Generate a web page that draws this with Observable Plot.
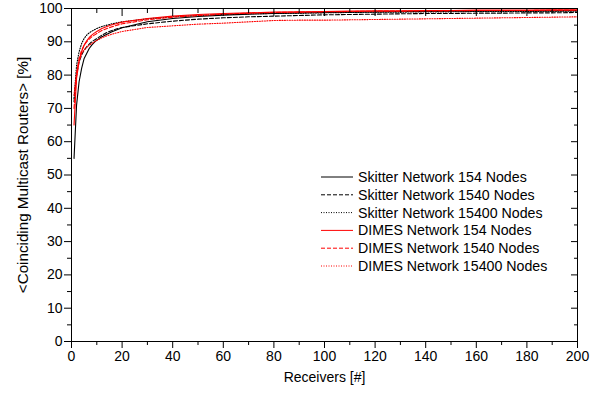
<!DOCTYPE html>
<html>
<head>
<meta charset="utf-8">
<script src="https://cdn.jsdelivr.net/npm/d3@7"></script>
<script src="https://cdn.jsdelivr.net/npm/@observablehq/plot@0.6"></script>
<style>
  html, body { margin: 0; padding: 0; background: #fff; }
  #chart { width: 600px; height: 396px; }
</style>
</head>
<body>
<div id="chart"></div>
<script>
const receivers = [1,2,3,4,5,6,7,8,9,10,12,14,16,18,20,30,40,50,60,70,80,90,100,110,120,130,140,150,160,170,180,190,200];

const skitter154   = [55,71,78,82,85,86.5,88,89,89.8,90.5,91.5,92.3,93,93.6,94.2,96,97,97.6,98,98.3,98.5,98.7,98.8,98.9,99,99.1,99.1,99.2,99.2,99.3,99.3,99.3,99.4];
const skitter1540  = [72,80,84,86,87.5,88.5,89.3,90,90.5,91,92,92.8,93.4,93.9,94.3,95.4,96.2,96.8,97.2,97.5,97.7,97.9,98.1,98.2,98.3,98.4,98.5,98.5,98.6,98.6,98.7,98.7,98.8];
const skitter15400 = [73,83,87,89.5,91,92,92.7,93.2,93.6,94,94.6,95,95.4,95.7,96,96.9,97.5,97.9,98.2,98.4,98.5,98.6,98.7,98.8,98.9,98.9,99,99,99.1,99.1,99.1,99.2,99.2];
const dimes154     = [65,79,84,87,89,90.3,91.3,92,92.6,93.1,94,94.6,95.1,95.5,95.9,97,97.7,98.2,98.5,98.7,98.9,99,99.1,99.2,99.3,99.3,99.4,99.4,99.5,99.5,99.5,99.6,99.6];
const dimes1540    = [70,80,85,87.5,89,90,90.8,91.5,92,92.5,93.4,94,94.5,95,95.4,96.6,97.4,97.9,98.3,98.6,98.8,98.9,99,99.1,99.2,99.2,99.3,99.3,99.4,99.4,99.4,99.5,99.5];
const dimes15400   = [74,81,84.5,86.5,87.5,88.3,89,89.5,90,90.4,91.2,91.8,92.3,92.7,93.1,94.3,94.8,95.3,95.6,96,96.4,96.5,96.5,96.6,96.7,96.8,96.9,97,97.1,97.2,97.3,97.4,97.5];

const seriesNames = ["Skitter Network 154 Nodes","Skitter Network 1540 Nodes","Skitter Network 15400 Nodes","DIMES Network 154 Nodes","DIMES Network 1540 Nodes","DIMES Network 15400 Nodes"];
const seriesValues = [skitter154, skitter1540, skitter15400, dimes154, dimes1540, dimes15400];
const seriesColors = ["#000000","#000000","#000000","#ff0000","#ff0000","#ff0000"];
const seriesDash = [null, "4,2", "1,1.5", null, "4,2", "1,1.5"];

const xMajor = d3.range(0, 201, 20);
const xMinor = d3.range(10, 200, 20);
const yMajor = d3.range(0, 101, 10);
const yMinor = d3.range(5, 100, 10);

const lineMarks = seriesValues.map((vals, i) =>
  Plot.line(receivers.map((r, j) => ({x: r, y: vals[j]})), {
    x: "x", y: "y", stroke: seriesColors[i], strokeWidth: 1.1,
    strokeDasharray: seriesDash[i], curve: "linear"
  })
);

const chart = Plot.plot({
  width: 600, height: 396,
  marginLeft: 71, marginRight: 23, marginTop: 8, marginBottom: 55,
  style: {fontFamily: "'Liberation Sans', Arial, sans-serif", fontSize: "14px", color: "#000", background: "#fff"},
  x: {domain: [0, 200]},
  y: {domain: [0, 100]},
  marks: [
    ...lineMarks,
    Plot.frame({stroke: "#000", strokeWidth: 1}),
    Plot.axisX(xMajor, {anchor: "bottom", tickSize: 7, tickPadding: 3, label: "Receivers [#]", labelAnchor: "center", labelArrow: "none", labelOffset: 40}),
    Plot.axisX(xMinor, {anchor: "bottom", tickSize: 4, tickFormat: () => "", label: null}),
    Plot.axisX(xMajor, {anchor: "top", tickSize: -7, tickFormat: () => "", label: null}),
    Plot.axisX(xMinor, {anchor: "top", tickSize: -4, tickFormat: () => "", label: null}),
    Plot.axisY(yMajor, {anchor: "left", tickSize: 7, tickPadding: 2, label: "<Coinciding Multicast Routers> [%]", labelAnchor: "center", labelArrow: "none", labelOffset: 54}),
    Plot.axisY(yMinor, {anchor: "left", tickSize: 4, tickFormat: () => "", label: null}),
    Plot.axisY(yMajor, {anchor: "right", tickSize: -7, tickFormat: () => "", label: null}),
    Plot.axisY(yMinor, {anchor: "right", tickSize: -4, tickFormat: () => "", label: null})
  ]
});

document.getElementById("chart").appendChild(chart);

const svg = d3.select(chart);
// Slightly larger y-axis title, as in the reference
svg.selectAll('g[aria-label="y-axis label"] text').attr("font-size", 15.2);

// Legend inside the plot area
const lg = svg.append("g")
  .attr("font-family", "'Liberation Sans', Arial, sans-serif")
  .attr("font-size", 14.2)
  .attr("text-anchor", "start");
seriesNames.forEach((name, i) => {
  const yy = 177 + i * 17.8;
  lg.append("line").attr("x1", 321).attr("x2", 353).attr("y1", yy).attr("y2", yy)
    .attr("stroke", seriesColors[i]).attr("stroke-width", 1)
    .attr("stroke-dasharray", seriesDash[i]);
  lg.append("text").attr("x", 358).attr("y", yy).attr("dy", "0.35em")
    .attr("text-anchor", "start").attr("fill", "#000").text(name);
});
</script>
</body>
</html>
